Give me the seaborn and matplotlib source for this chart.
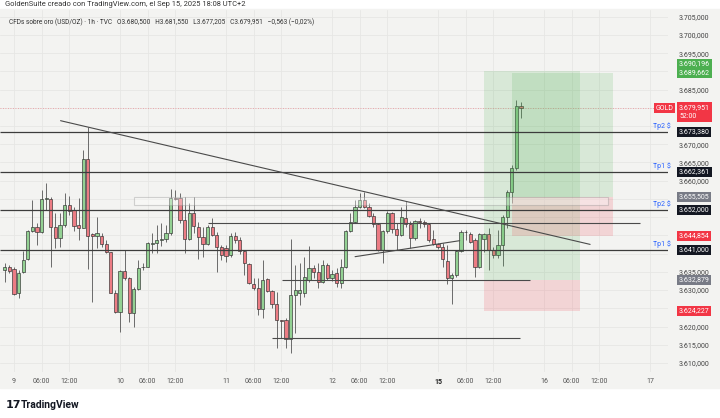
import seaborn as sns
import matplotlib.pyplot as plt
import matplotlib.transforms as mtransforms
from matplotlib.patches import Rectangle

# hourly bars, index 0 = Sep 9 00:00 (UTC+2), 23 bars per session
bar_idx = list(range(-2, 111))
opens = [3635.5, 3636.2, 3635.7, 3629.3, 3634.9, 3638.4, 3646.2, 3647.4, 3645.8, 3654.9,
         3654.9, 3647.4, 3644.2, 3647.9, 3653.3, 3652.0, 3647.9, 3647.1, 3665.9, 3645.3,
         3644.8, 3644.8, 3642.6, 3640.4, 3629.3, 3624.1, 3635.2, 3633.2, 3623.8, 3630.2,
         3636.2, 3636.4, 3642.6, 3642.8, 3643.6, 3643.9, 3645.6, 3655.2, 3655.2, 3649.1,
         3643.9, 3651.1, 3647.2, 3644.5, 3642.6, 3647.4, 3645.1, 3641.9, 3641.5, 3639.6,
         3644.8, 3643.6, 3640.7, 3637.2, 3631.7, 3630.5, 3624.9, 3633.0, 3629.8, 3626.1,
         3621.8, 3621.8, 3616.6, 3628.7, 3629.3, 3629.3, 3632.8, 3636.1, 3634.9, 3632.3,
         3636.9, 3633.2, 3634.8, 3631.9, 3636.2, 3646.2, 3648.8, 3652.9, 3654.7, 3652.9,
         3650.4, 3648.1, 3641.0, 3646.3, 3651.1, 3646.8, 3645.1, 3649.9, 3648.1, 3644.2,
         3649.0, 3648.8, 3648.1, 3643.9, 3642.6, 3641.9, 3637.9, 3633.2, 3634.1, 3640.7,
         3646.0, 3645.3, 3643.7, 3636.2, 3644.0, 3645.4, 3641.0, 3639.6, 3642.4, 3650.1,
         3657.0, 3663.4, 3680.5]
highs = [3637.5, 3637.0, 3636.4, 3635.5, 3640.8, 3646.5, 3654.7, 3648.3, 3657.5, 3659.3,
         3655.6, 3651.1, 3651.1, 3656.5, 3655.8, 3652.9, 3655.2, 3668.4, 3674.8, 3645.6,
         3650.0, 3645.6, 3643.7, 3640.5, 3630.0, 3635.5, 3641.0, 3633.7, 3630.9, 3638.3,
         3637.3, 3643.3, 3645.6, 3647.9, 3648.3, 3647.9, 3657.6, 3657.5, 3656.7, 3655.5,
         3653.8, 3655.5, 3648.8, 3647.2, 3647.9, 3649.7, 3646.0, 3642.4, 3642.4, 3645.6,
         3646.0, 3644.5, 3641.0, 3637.3, 3633.2, 3633.2, 3638.3, 3633.2, 3630.0, 3629.6,
         3621.8, 3622.2, 3643.9, 3636.9, 3637.5, 3639.2, 3642.2, 3636.9, 3637.3, 3638.3,
         3637.3, 3635.5, 3636.0, 3638.4, 3646.5, 3651.1, 3654.7, 3656.5, 3657.0, 3653.8,
         3651.1, 3648.3, 3646.5, 3651.8, 3651.5, 3648.3, 3652.9, 3654.5, 3649.0, 3649.2,
         3649.7, 3649.2, 3648.3, 3646.5, 3643.0, 3642.8, 3642.5, 3634.6, 3641.0, 3646.5,
         3646.5, 3645.8, 3644.2, 3645.75, 3645.75, 3646.9, 3641.9, 3646.5, 3650.6, 3657.5,
         3664.3, 3682.1, 3681.55]
lows = [3632.3, 3634.6, 3628.6, 3627.7, 3634.6, 3638.2, 3646.0, 3642.4, 3645.6, 3652.0,
        3636.4, 3641.5, 3641.9, 3647.4, 3650.6, 3646.3, 3643.7, 3646.9, 3635.7, 3626.8,
        3641.5, 3641.9, 3640.1, 3629.1, 3623.6, 3618.4, 3632.8, 3621.3, 3620.0, 3630.0,
        3635.5, 3636.2, 3640.1, 3640.1, 3642.0, 3643.3, 3645.1, 3654.7, 3648.3, 3640.1,
        3643.7, 3645.6, 3638.4, 3639.2, 3642.4, 3644.7, 3635.0, 3638.2, 3637.8, 3639.2,
        3642.9, 3639.9, 3634.1, 3631.7, 3630.0, 3623.2, 3622.3, 3629.4, 3625.0, 3614.0,
        3616.8, 3614.0, 3612.6, 3618.1, 3625.9, 3628.2, 3632.3, 3633.2, 3630.5, 3631.9,
        3632.8, 3632.6, 3630.9, 3630.5, 3636.0, 3645.8, 3648.3, 3652.4, 3652.4, 3650.1,
        3647.4, 3640.8, 3637.3, 3645.6, 3645.6, 3641.0, 3644.8, 3647.2, 3641.5, 3643.7,
        3646.9, 3647.4, 3643.3, 3642.4, 3641.2, 3636.4, 3631.6, 3626.2, 3633.7, 3640.5,
        3643.7, 3642.8, 3633.7, 3635.96, 3640.5, 3635.5, 3638.7, 3638.7, 3636.6, 3646.9,
        3653.8, 3662.9, 3677.205]
closes = [3636.4, 3635.3, 3628.8, 3634.8, 3638.3, 3646.2, 3647.4, 3645.8, 3654.9, 3655.2,
          3647.4, 3644.2, 3647.9, 3653.3, 3651.8, 3647.6, 3647.1, 3665.9, 3644.8, 3644.9,
          3645.6, 3642.6, 3640.4, 3629.3, 3624.1, 3635.1, 3633.2, 3623.8, 3630.2, 3636.0,
          3636.4, 3642.8, 3642.8, 3643.6, 3643.9, 3645.6, 3655.2, 3654.9, 3649.1, 3643.9,
          3651.1, 3647.6, 3644.5, 3642.6, 3647.2, 3645.1, 3641.9, 3639.6, 3639.4, 3644.8,
          3643.7, 3640.8, 3637.3, 3631.9, 3630.5, 3624.9, 3632.8, 3629.8, 3626.1, 3621.8,
          3621.6, 3616.6, 3628.7, 3630.0, 3630.0, 3633.5, 3636.1, 3634.9, 3632.3, 3636.9,
          3633.4, 3634.4, 3631.9, 3636.4, 3646.2, 3648.8, 3652.9, 3654.7, 3652.9, 3650.4,
          3648.1, 3641.0, 3646.3, 3651.1, 3646.8, 3645.1, 3650.1, 3648.1, 3644.2, 3649.0,
          3648.8, 3648.1, 3643.7, 3642.6, 3641.9, 3638.4, 3633.2, 3634.1, 3640.7, 3646.0,
          3645.8, 3643.3, 3636.4, 3645.4, 3645.4, 3641.0, 3639.6, 3642.4, 3650.1, 3657.0,
          3663.4, 3680.5, 3679.951]

day_labels = ['9', '10', '11', '12', '15', '16', '17']
price_ticks = list(range(3610, 3710, 5))

# drawings
tp_levels = [3673.38, 3662.361, 3652.0, 3641.0]
tp_names = ['Tp2 $', 'Tp1 $', 'Tp2 $', 'Tp1 $']
tp_texts = ['3.673,380', '3.662,361', '3.652,000', '3.641,000']
last_price = 3679.951
trend_x, trend_y = [10.1, 125.0], [3676.47, 3642.53]
rise_x, rise_y = [74.0, 96.7], [3639.16, 3643.55]
# (start, end, price)
segments = [(42.1, 135.9, 3648.35), (58.1, 111.9, 3632.879), (56.0, 109.8, 3616.8)]
zone = (26.0, 128.9, 3653.3, 3655.45)
# long positions: x0, x1, entry, target, stop
positions = [(101.95, 122.9, 3632.879, 3690.196, 3624.227),
             (107.96, 129.9, 3655.505, 3689.662, 3644.854)]
# price labels that hide the regular tick labels behind them
hidden_ticks = [3690, 3680, 3675, 3655, 3650, 3645, 3640, 3625]

sns.set_theme(style='white')
plt.rcParams['font.family'] = ['Roboto', 'DejaVu Sans']

bg = '#f3f3f1'
fig = plt.figure(figsize=(7.2, 4.18), dpi=100, facecolor='white')
fig.add_artist(Rectangle((0, 30 / 418), 1, 379 / 418, transform=fig.transFigure,
                         color=bg, zorder=-5))
ax = fig.add_axes([0, 46 / 418, 668 / 720, 362 / 418])
ax.set_facecolor(bg)
for s in ax.spines.values():
    s.set_visible(False)

# candles
for i, o, h, l, c in zip(bar_idx, opens, highs, lows, closes):
    up = c >= o
    ax.vlines(i, l, h, color='#555555', lw=0.6, zorder=3)
    body = max(abs(c - o), 0.15)
    ax.bar(i, body, bottom=min(o, c), width=0.7,
           color='#93d193' if up else '#ec7c84', edgecolor='#2f2f2f', lw=0.45, zorder=4)

# position tool boxes
for x0, x1, entry, target, stop in positions:
    ax.add_patch(Rectangle((x0, entry), x1 - x0, target - entry,
                           color='#4caf50', alpha=0.16, lw=0, zorder=5))
    ax.add_patch(Rectangle((x0, stop), x1 - x0, entry - stop,
                           color='#f23645', alpha=0.16, lw=0, zorder=5))

ax.add_patch(Rectangle((zone[0], zone[2]), zone[1] - zone[0], zone[3] - zone[2],
                       fc='white', alpha=0.35, ec='#8a8a8a', lw=0.8, zorder=6))

xmin, xmax = -3.04, 141.9
for lvl in tp_levels:
    ax.hlines(lvl, xmin, xmax, color='#3c3c3c', lw=0.9, zorder=6)
for x0, x1, p in segments:
    ax.hlines(p, x0, x1, color='#4a4a4a', lw=0.8, zorder=6)
sns.lineplot(x=trend_x, y=trend_y, ax=ax, color='#4a4a4a', lw=0.8, zorder=6)
sns.lineplot(x=rise_x, y=rise_y, ax=ax, color='#4a4a4a', lw=0.8, zorder=6)
ax.hlines(last_price, xmin, xmax, color='#f23645', lw=0.6, ls=(0, (1, 2)), alpha=0.5, zorder=2)

ax.set_xlim(xmin, xmax)
ax.set_ylim(3607.52, 3706.84)

# time axis
xt, xl = [], []
for d, lab in enumerate(day_labels):
    for h, t in [(0, lab), (6, '06:00'), (12, '12:00')]:
        if d * 23 + h < xmax:
            xt.append(d * 23 + h)
            xl.append(t)
ax.set_xticks(xt)
ax.set_xticklabels(xl)
ax.tick_params(axis='x', length=0, pad=4, labelsize=5, colors='#555555')
for t in ax.get_xticklabels():
    if t.get_text() == '15':
        t.set_fontweight('bold')
        t.set_color('#222222')

# price axis
ax.yaxis.tick_right()
ax.set_yticks(price_ticks)
ax.set_yticklabels(['' if p in hidden_ticks else f'{p // 1000}.{p % 1000:03d},000'
                    for p in price_ticks])
ax.tick_params(axis='y', length=0, pad=8, labelsize=5, colors='#444444')
ax.grid(True, color='#e6e6e4', lw=0.6)
ax.set_axisbelow(True)

trans = mtransforms.blended_transform_factory(ax.transAxes, ax.transData)


def tag(y, txt, fc):
    ax.text(679 / 668, y, txt, transform=trans, ha='left', va='center', fontsize=5,
            color='white', linespacing=1.45, clip_on=False, zorder=10,
            bbox=dict(boxstyle='square,pad=0.22', fc=fc, ec='none'))


tag(3690.84, '3.690,196\n3.689,662', '#4caf50')
tag(3678.85, '3.679,951\n52:00', '#f23645')
ax.text(673 / 668, 3679.95, 'GOLD', transform=trans, ha='right', va='center', fontsize=5,
        color='white', clip_on=False, zorder=10,
        bbox=dict(boxstyle='square,pad=0.22', fc='#f23645', ec='none'))
for lvl, name, txt in zip(tp_levels, tp_names, tp_texts):
    tag(lvl, txt, '#131722')
    ax.text(671 / 668, lvl + 0.45, name, transform=trans, ha='right', va='bottom',
            fontsize=5, color='#2962ff', clip_on=False, zorder=10)
tag(3655.505, '3.655,505', '#787b86')
tag(3644.854, '3.644,854', '#f23645')
tag(3632.879, '3.632,879', '#787b86')
tag(3624.227, '3.624,227', '#f23645')

fig.text(5 / 720, 1 - 5 / 418, 'GoldenSuite creado con TradingView.com, el Sep 15, 2025 18:08 UTC+2',
         fontsize=5.4, color='#333333', va='center')
fig.text(9 / 720, 1 - 22 / 418,
         'CFDs sobre oro (USD/OZ) · 1h · TVC   O3.680,500   H3.681,550   L3.677,205   '
         'C3.679,951   −0,563 (−0,02%)', fontsize=4.7, color='#333333', va='center')
fig.text(6 / 720, 1 - 405 / 418, '17', fontsize=8, fontweight='heavy', color='#131722',
         va='center', family='DejaVu Sans')
fig.text(21 / 720, 1 - 405 / 418, 'TradingView', fontsize=7.5, fontweight='bold',
         color='#131722', va='center')

fig.savefig('out.png', dpi=100, facecolor='white')
